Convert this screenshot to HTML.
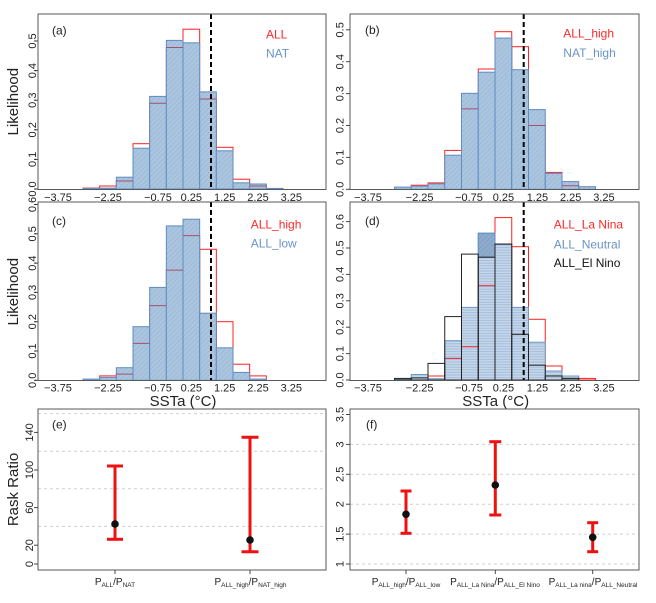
<!DOCTYPE html>
<html><head><meta charset="utf-8"><style>
html,body{margin:0;padding:0;background:#fff;}
svg{display:block;}
text{font-family:"Liberation Sans",Arial,sans-serif;}
</style></head><body>
<svg width="656" height="603" viewBox="0 0 656 603" xmlns="http://www.w3.org/2000/svg">
<defs>
<pattern id="hatch" patternUnits="userSpaceOnUse" width="3.5" height="3.5" patternTransform="rotate(45)">
<rect width="3.5" height="3.5" fill="#abc5df"/><line x1="0" y1="0" x2="0" y2="3.5" stroke="#8fb0d3" stroke-width="1"/></pattern>
<pattern id="hz" patternUnits="userSpaceOnUse" width="4" height="2.6">
<rect width="4" height="2.6" fill="#c6d7ea"/><line x1="0" y1="0.6" x2="4" y2="0.6" stroke="#9fbad9" stroke-width="0.9"/></pattern>
<pattern id="dk" patternUnits="userSpaceOnUse" width="3.5" height="3.5" patternTransform="rotate(45)">
<rect width="3.5" height="3.5" fill="#8eabcc"/><line x1="0" y1="0" x2="0" y2="3.5" stroke="#7698c0" stroke-width="1"/></pattern>
</defs>

<!-- ================= Panel (a) ================= -->
<g fill="none" stroke="#ff2020" stroke-width="1">
<rect x="83" y="188.1" width="16.67" height="0.9"/>
<rect x="99.67" y="186" width="16.67" height="3"/>
<rect x="116.33" y="181" width="16.67" height="8"/>
<rect x="133" y="143.7" width="16.67" height="45.3"/>
<rect x="149.67" y="103.2" width="16.67" height="85.8"/>
<rect x="166.33" y="47.5" width="16.67" height="141.5"/>
<rect x="183" y="29.2" width="16.67" height="159.8"/>
<rect x="199.67" y="99" width="16.67" height="90"/>
<rect x="216.33" y="147.3" width="16.67" height="41.7"/>
<rect x="233" y="179.2" width="16.67" height="9.8"/>
<rect x="249.67" y="186" width="16.67" height="3"/>
</g>
<g fill="url(#hatch)" stroke="#5f8cc2" stroke-width="1">
<rect x="83" y="188.4" width="16.67" height="0.6"/>
<rect x="99.67" y="188.1" width="16.67" height="0.9"/>
<rect x="116.33" y="177.2" width="16.67" height="11.8"/>
<rect x="133" y="148.2" width="16.67" height="40.8"/>
<rect x="149.67" y="96.4" width="16.67" height="92.6"/>
<rect x="166.33" y="40.4" width="16.67" height="148.6"/>
<rect x="183" y="42.8" width="16.67" height="146.2"/>
<rect x="199.67" y="91.9" width="16.67" height="97.1"/>
<rect x="216.33" y="150.8" width="16.67" height="38.2"/>
<rect x="233" y="182.8" width="16.67" height="6.2"/>
<rect x="249.67" y="184" width="16.67" height="5"/>
<rect x="266.33" y="188.4" width="16.67" height="0.6"/>
</g>
<g stroke="#a4506e" stroke-width="1">
<line x1="116.33" y1="181" x2="133" y2="181"/>
<line x1="149.67" y1="103.2" x2="166.33" y2="103.2"/>
<line x1="166.33" y1="47.5" x2="183" y2="47.5"/>
<line x1="199.67" y1="99" x2="216.33" y2="99"/>
<line x1="249.67" y1="186" x2="266.33" y2="186"/>
</g>
<line x1="211" y1="14" x2="211" y2="189" stroke="#000" stroke-width="2" stroke-dasharray="5,3"/>
<rect x="38" y="14" width="288" height="175.5" fill="none" stroke="#595959" stroke-width="1"/>
<text x="52" y="34.5" font-size="12" fill="#222">(a)</text>
<text x="266" y="38.5" font-size="12" fill="#ff2a2a">ALL</text>
<text x="266" y="57.6" font-size="12" fill="#6a94c8">NAT</text>
<g stroke="#444"><line x1="34" y1="189" x2="38" y2="189"/><line x1="34" y1="159.4" x2="38" y2="159.4"/><line x1="34" y1="129.8" x2="38" y2="129.8"/><line x1="34" y1="100.2" x2="38" y2="100.2"/><line x1="34" y1="70.6" x2="38" y2="70.6"/><line x1="34" y1="41" x2="38" y2="41"/></g>
<g font-size="11" fill="#222" text-anchor="middle">
<text transform="translate(36,189) rotate(-90)">0.0</text>
<text transform="translate(36,159.4) rotate(-90)">0.1</text>
<text transform="translate(36,129.8) rotate(-90)">0.2</text>
<text transform="translate(36,100.2) rotate(-90)">0.3</text>
<text transform="translate(36,70.6) rotate(-90)">0.4</text>
<text transform="translate(36,41) rotate(-90)">0.5</text>
<text x="58" y="201">−3.75</text><text x="108" y="201">−2.25</text><text x="158" y="201">−0.75</text><text x="191.3" y="201">0.25</text><text x="224.7" y="201">1.25</text><text x="258" y="201">2.25</text><text x="291.3" y="201">3.25</text>
</g>
<text transform="translate(18,101.7) rotate(-90)" font-size="15" fill="#222" text-anchor="middle">Likelihood</text>

<!-- ================= Panel (b) ================= -->
<g fill="none" stroke="#ff2020" stroke-width="1">
<rect x="394.5" y="187.7" width="16.75" height="1.6"/>
<rect x="411.25" y="185.2" width="16.75" height="4.1"/>
<rect x="428" y="182.9" width="16.75" height="6.4"/>
<rect x="444.75" y="150.4" width="16.75" height="38.9"/>
<rect x="461.5" y="108.9" width="16.75" height="80.4"/>
<rect x="478.25" y="69" width="16.75" height="120.3"/>
<rect x="495" y="31.7" width="16.75" height="157.6"/>
<rect x="511.75" y="46.7" width="16.75" height="142.6"/>
<rect x="528.5" y="125.5" width="16.75" height="63.8"/>
<rect x="545.25" y="172.4" width="16.75" height="16.9"/>
<rect x="562" y="185.8" width="16.75" height="3.5"/>
</g>
<g fill="url(#hatch)" stroke="#5f8cc2" stroke-width="1">
<rect x="394.5" y="187.1" width="16.75" height="2.2"/>
<rect x="411.25" y="186.1" width="16.75" height="3.2"/>
<rect x="428" y="183.9" width="16.75" height="5.4"/>
<rect x="444.75" y="155.2" width="16.75" height="34.1"/>
<rect x="461.5" y="93.3" width="16.75" height="96"/>
<rect x="478.25" y="72.2" width="16.75" height="117.1"/>
<rect x="495" y="38.1" width="16.75" height="151.2"/>
<rect x="511.75" y="69.7" width="16.75" height="119.6"/>
<rect x="528.5" y="109.6" width="16.75" height="79.7"/>
<rect x="545.25" y="173.4" width="16.75" height="15.9"/>
<rect x="562" y="181.6" width="16.75" height="7.7"/>
<rect x="578.75" y="186.7" width="16.75" height="2.6"/>
</g>
<g stroke="#a4506e" stroke-width="1">
<line x1="461.5" y1="108.9" x2="478.25" y2="108.9"/>
<line x1="528.5" y1="125.5" x2="545.25" y2="125.5"/>
<line x1="562" y1="185.8" x2="578.75" y2="185.8"/>
</g>
<line x1="523.7" y1="14" x2="523.7" y2="189" stroke="#000" stroke-width="2" stroke-dasharray="5,3"/>
<rect x="350" y="14" width="289" height="175.5" fill="none" stroke="#595959" stroke-width="1"/>
<text x="365" y="34" font-size="12" fill="#222">(b)</text>
<text x="563.3" y="37.6" font-size="12" fill="#ff2a2a">ALL_high</text>
<text x="563.3" y="57" font-size="12" fill="#6a94c8">NAT_high</text>
<g stroke="#444"><line x1="346" y1="189.3" x2="350" y2="189.3"/><line x1="346" y1="157.4" x2="350" y2="157.4"/><line x1="346" y1="125.5" x2="350" y2="125.5"/><line x1="346" y1="93.6" x2="350" y2="93.6"/><line x1="346" y1="61.7" x2="350" y2="61.7"/><line x1="346" y1="29.8" x2="350" y2="29.8"/></g>
<g font-size="11" fill="#222" text-anchor="middle">
<text transform="translate(343.7,189.3) rotate(-90)">0.0</text>
<text transform="translate(343.7,157.4) rotate(-90)">0.1</text>
<text transform="translate(343.7,125.5) rotate(-90)">0.2</text>
<text transform="translate(343.7,93.6) rotate(-90)">0.3</text>
<text transform="translate(343.7,61.7) rotate(-90)">0.4</text>
<text transform="translate(343.7,29.8) rotate(-90)">0.5</text>
<text x="368" y="201">−3.75</text><text x="419.6" y="201">−2.25</text><text x="469" y="201">−0.75</text><text x="503.4" y="201">0.25</text><text x="537.4" y="201">1.25</text><text x="570.7" y="201">2.25</text><text x="603.9" y="201">3.25</text>
</g>

<!-- ================= Panel (c) ================= -->
<g fill="none" stroke="#ff2020" stroke-width="1">
<rect x="83" y="379.7" width="16.67" height="0.6"/>
<rect x="99.67" y="375.9" width="16.67" height="4.4"/>
<rect x="116.33" y="374.1" width="16.67" height="6.2"/>
<rect x="133" y="343.4" width="16.67" height="36.9"/>
<rect x="149.67" y="305.6" width="16.67" height="74.7"/>
<rect x="166.33" y="270.1" width="16.67" height="110.2"/>
<rect x="183" y="235.6" width="16.67" height="144.7"/>
<rect x="199.67" y="249.3" width="16.67" height="131"/>
<rect x="216.33" y="321.7" width="16.67" height="58.6"/>
<rect x="233" y="364.2" width="16.67" height="16.1"/>
<rect x="249.67" y="375.9" width="16.67" height="4.4"/>
</g>
<g fill="url(#hatch)" stroke="#5f8cc2" stroke-width="1">
<rect x="83" y="379.1" width="16.67" height="1.2"/>
<rect x="99.67" y="377.4" width="16.67" height="2.9"/>
<rect x="116.33" y="367.7" width="16.67" height="12.6"/>
<rect x="133" y="326.7" width="16.67" height="53.6"/>
<rect x="149.67" y="287.4" width="16.67" height="92.9"/>
<rect x="166.33" y="225.9" width="16.67" height="154.4"/>
<rect x="183" y="219.2" width="16.67" height="161.1"/>
<rect x="199.67" y="313.2" width="16.67" height="67.1"/>
<rect x="216.33" y="347.8" width="16.67" height="32.5"/>
<rect x="233" y="372.4" width="16.67" height="7.9"/>
<rect x="249.67" y="379.1" width="16.67" height="1.2"/>
</g>
<g stroke="#a4506e" stroke-width="1">
<line x1="116.33" y1="374.1" x2="133" y2="374.1"/>
<line x1="133" y1="343.4" x2="149.67" y2="343.4"/>
<line x1="149.67" y1="305.6" x2="166.33" y2="305.6"/>
<line x1="166.33" y1="270.1" x2="183" y2="270.1"/>
<line x1="183" y1="235.6" x2="199.67" y2="235.6"/>
</g>
<line x1="211" y1="202" x2="211" y2="380" stroke="#000" stroke-width="2" stroke-dasharray="5,3"/>
<rect x="38" y="202" width="288" height="178.5" fill="none" stroke="#595959" stroke-width="1"/>
<text x="52" y="225" font-size="12" fill="#222">(c)</text>
<text x="250.7" y="228.3" font-size="12" fill="#ff2a2a">ALL_high</text>
<text x="250.7" y="247.6" font-size="12" fill="#6a94c8">ALL_low</text>
<g stroke="#444"><line x1="34" y1="380.3" x2="38" y2="380.3"/><line x1="34" y1="351" x2="38" y2="351"/><line x1="34" y1="321.7" x2="38" y2="321.7"/><line x1="34" y1="292.4" x2="38" y2="292.4"/><line x1="34" y1="263.1" x2="38" y2="263.1"/><line x1="34" y1="233.8" x2="38" y2="233.8"/><line x1="34" y1="204.5" x2="38" y2="204.5"/></g>
<g font-size="11" fill="#222" text-anchor="middle">
<text transform="translate(36,380.3) rotate(-90)">0.0</text>
<text transform="translate(36,351) rotate(-90)">0.1</text>
<text transform="translate(36,321.7) rotate(-90)">0.2</text>
<text transform="translate(36,292.4) rotate(-90)">0.3</text>
<text transform="translate(36,263.1) rotate(-90)">0.4</text>
<text transform="translate(36,233.8) rotate(-90)">0.5</text>
<text transform="translate(36,204.5) rotate(-90)">0.6</text>
<text x="58" y="391.5">−3.75</text><text x="108" y="391.5">−2.25</text><text x="158" y="391.5">−0.75</text><text x="191.3" y="391.5">0.25</text><text x="224.7" y="391.5">1.25</text><text x="258" y="391.5">2.25</text><text x="291.3" y="391.5">3.25</text>
</g>
<text transform="translate(18,291.7) rotate(-90)" font-size="15" fill="#222" text-anchor="middle">Likelihood</text>
<text x="183" y="406" font-size="15" fill="#222" text-anchor="middle">SSTa (°C)</text>

<!-- ================= Panel (d) ================= -->
<g fill="none" stroke="#ff2020" stroke-width="1">
<rect x="411.25" y="378.7" width="16.75" height="1.3"/>
<rect x="428" y="376" width="16.75" height="4"/>
<rect x="444.75" y="358.4" width="16.75" height="21.6"/>
<rect x="461.5" y="346.7" width="16.75" height="33.3"/>
<rect x="478.25" y="285.8" width="16.75" height="94.2"/>
<rect x="495" y="217.6" width="16.75" height="162.4"/>
<rect x="511.75" y="246.7" width="16.75" height="133.3"/>
<rect x="528.5" y="319.3" width="16.75" height="60.7"/>
<rect x="545.25" y="366" width="16.75" height="14"/>
<rect x="562" y="377.4" width="16.75" height="2.6"/>
<rect x="578.75" y="378.4" width="16.75" height="1.6"/>
</g>
<g fill="url(#hz)" stroke="#6f98c8" stroke-width="1">
<rect x="394.5" y="379.2" width="16.75" height="0.8"/>
<rect x="411.25" y="374.5" width="16.75" height="5.5"/>
<rect x="428" y="378.7" width="16.75" height="1.3"/>
<rect x="444.75" y="340.7" width="16.75" height="39.3"/>
<rect x="461.5" y="307.4" width="16.75" height="72.6"/>
<rect x="478.25" y="233.2" width="16.75" height="146.8"/>
<rect x="495" y="244.6" width="16.75" height="135.4"/>
<rect x="511.75" y="307.4" width="16.75" height="72.6"/>
<rect x="528.5" y="342.2" width="16.75" height="37.8"/>
<rect x="545.25" y="371" width="16.75" height="9"/>
<rect x="562" y="376" width="16.75" height="4"/>
</g>
<rect x="478.25" y="233.2" width="16.75" height="24" fill="url(#dk)" stroke="#5f8cc2" stroke-width="1"/>
<g stroke="#ee2030" stroke-width="1">
<line x1="444.75" y1="358.4" x2="461.5" y2="358.4"/>
<line x1="461.5" y1="346.7" x2="478.25" y2="346.7"/>
<line x1="478.25" y1="285.8" x2="495" y2="285.8"/>
</g>
<g fill="none" stroke="#222" stroke-width="1">
<rect x="394.5" y="378.4" width="16.75" height="1.6"/>
<rect x="411.25" y="377.9" width="16.75" height="2.1"/>
<rect x="428" y="363.4" width="16.75" height="16.6"/>
<rect x="444.75" y="316.6" width="16.75" height="63.4"/>
<rect x="461.5" y="254.1" width="16.75" height="125.9"/>
<rect x="478.25" y="257.2" width="16.75" height="122.8"/>
<rect x="495" y="244" width="16.75" height="136"/>
<rect x="511.75" y="334.3" width="16.75" height="45.7"/>
<rect x="528.5" y="365.2" width="16.75" height="14.8"/>
<rect x="545.25" y="376" width="16.75" height="4"/>
<rect x="562" y="378.4" width="16.75" height="1.6"/>
</g>
<line x1="523.7" y1="202" x2="523.7" y2="380" stroke="#000" stroke-width="2" stroke-dasharray="5,3"/>
<rect x="350" y="202" width="289" height="178.5" fill="none" stroke="#595959" stroke-width="1"/>
<text x="365" y="225" font-size="12" fill="#222">(d)</text>
<text x="553.7" y="228.3" font-size="12" fill="#ff2a2a">ALL_La Nina</text>
<text x="553.7" y="248.3" font-size="12" fill="#6a94c8">ALL_Neutral</text>
<text x="553.7" y="267" font-size="12" fill="#111">ALL_El Nino</text>
<g stroke="#444"><line x1="346" y1="380" x2="350" y2="380"/><line x1="346" y1="353.6" x2="350" y2="353.6"/><line x1="346" y1="327.2" x2="350" y2="327.2"/><line x1="346" y1="300.8" x2="350" y2="300.8"/><line x1="346" y1="274.4" x2="350" y2="274.4"/><line x1="346" y1="248" x2="350" y2="248"/><line x1="346" y1="221.6" x2="350" y2="221.6"/></g>
<g font-size="11" fill="#222" text-anchor="middle">
<text transform="translate(343.7,380) rotate(-90)">0.0</text>
<text transform="translate(343.7,353.6) rotate(-90)">0.1</text>
<text transform="translate(343.7,327.2) rotate(-90)">0.2</text>
<text transform="translate(343.7,300.8) rotate(-90)">0.3</text>
<text transform="translate(343.7,274.4) rotate(-90)">0.4</text>
<text transform="translate(343.7,248) rotate(-90)">0.5</text>
<text transform="translate(343.7,221.6) rotate(-90)">0.6</text>
<text x="368" y="391.5">−3.75</text><text x="419.6" y="391.5">−2.25</text><text x="469" y="391.5">−0.75</text><text x="503.4" y="391.5">0.25</text><text x="537.4" y="391.5">1.25</text><text x="570.7" y="391.5">2.25</text><text x="603.9" y="391.5">3.25</text>
</g>
<text x="495.7" y="406" font-size="15" fill="#222" text-anchor="middle">SSTa (°C)</text>

<!-- ================= Panel (e) ================= -->
<g stroke="#cfcfcf" stroke-width="1" stroke-dasharray="3,3">
<line x1="38" y1="526.4" x2="326" y2="526.4"/>
<line x1="38" y1="488.8" x2="326" y2="488.8"/>
<line x1="38" y1="451.2" x2="326" y2="451.2"/>
<line x1="38" y1="413.6" x2="326" y2="413.6"/>
</g>
<g stroke="#ee1111" stroke-width="3">
<line x1="115" y1="466" x2="115" y2="539.3"/>
<line x1="107" y1="466" x2="123" y2="466"/>
<line x1="107" y1="539.3" x2="123" y2="539.3"/>
<line x1="250" y1="437.3" x2="250" y2="551.7"/>
<line x1="241.5" y1="437.3" x2="258.5" y2="437.3"/>
<line x1="241.5" y1="551.7" x2="258.5" y2="551.7"/>
</g>
<circle cx="115" cy="524" r="3.8" fill="#111"/>
<circle cx="250" cy="540" r="3.8" fill="#111"/>
<rect x="38" y="409" width="288" height="161" fill="none" stroke="#595959" stroke-width="1"/>
<text x="52" y="428.5" font-size="12" fill="#222">(e)</text>
<g stroke="#444"><line x1="34" y1="564" x2="38" y2="564"/><line x1="34" y1="545.2" x2="38" y2="545.2"/><line x1="34" y1="507.6" x2="38" y2="507.6"/><line x1="34" y1="470" x2="38" y2="470"/><line x1="34" y1="432.4" x2="38" y2="432.4"/>
<line x1="115" y1="570" x2="115" y2="574"/><line x1="250" y1="570" x2="250" y2="574"/></g>
<g font-size="11" fill="#222" text-anchor="middle">
<text transform="translate(33,564) rotate(-90)">0</text>
<text transform="translate(33,545.2) rotate(-90)">20</text>
<text transform="translate(33,507.6) rotate(-90)">60</text>
<text transform="translate(33,470) rotate(-90)">100</text>
<text transform="translate(33,432.4) rotate(-90)">140</text>
</g>
<text transform="translate(18,489.5) rotate(-90)" font-size="15" fill="#222" text-anchor="middle">Rask Ratio</text>
<g font-size="10" fill="#222" text-anchor="middle">
<text x="115" y="585">P<tspan font-size="6.5" dy="2">ALL</tspan><tspan dy="-2">/P</tspan><tspan font-size="6.5" dy="2">NAT</tspan></text>
<text x="250.5" y="585">P<tspan font-size="6.5" dy="2">ALL_high</tspan><tspan dy="-2">/P</tspan><tspan font-size="6.5" dy="2">NAT_high</tspan></text>
</g>

<!-- ================= Panel (f) ================= -->
<g stroke="#cfcfcf" stroke-width="1" stroke-dasharray="3,3">
<line x1="350" y1="564" x2="639" y2="564"/>
<line x1="350" y1="534.1" x2="639" y2="534.1"/>
<line x1="350" y1="504.2" x2="639" y2="504.2"/>
<line x1="350" y1="474.3" x2="639" y2="474.3"/>
<line x1="350" y1="444.4" x2="639" y2="444.4"/>
</g>
<g stroke="#ee1111" stroke-width="3">
<line x1="406" y1="491" x2="406" y2="533.3"/>
<line x1="400.5" y1="491" x2="411.5" y2="491"/>
<line x1="400.5" y1="533.3" x2="411.5" y2="533.3"/>
<line x1="495.3" y1="441.7" x2="495.3" y2="515"/>
<line x1="489.3" y1="441.7" x2="501.3" y2="441.7"/>
<line x1="489.3" y1="515" x2="501.3" y2="515"/>
<line x1="592.7" y1="522.7" x2="592.7" y2="551.7"/>
<line x1="587.2" y1="522.7" x2="598.2" y2="522.7"/>
<line x1="587.2" y1="551.7" x2="598.2" y2="551.7"/>
</g>
<circle cx="406" cy="514.3" r="3.8" fill="#111"/>
<circle cx="495.3" cy="485" r="3.8" fill="#111"/>
<circle cx="592.7" cy="537.3" r="3.8" fill="#111"/>
<rect x="350" y="409" width="289" height="161" fill="none" stroke="#595959" stroke-width="1"/>
<text x="366" y="428.5" font-size="12" fill="#222">(f)</text>
<g stroke="#444"><line x1="346" y1="564" x2="350" y2="564"/><line x1="346" y1="534.1" x2="350" y2="534.1"/><line x1="346" y1="504.2" x2="350" y2="504.2"/><line x1="346" y1="474.3" x2="350" y2="474.3"/><line x1="346" y1="444.4" x2="350" y2="444.4"/><line x1="346" y1="414.5" x2="350" y2="414.5"/>
<line x1="406" y1="570" x2="406" y2="574"/><line x1="495.3" y1="570" x2="495.3" y2="574"/><line x1="592.7" y1="570" x2="592.7" y2="574"/></g>
<g font-size="11" fill="#222" text-anchor="middle">
<text transform="translate(343.7,564) rotate(-90)">1</text>
<text transform="translate(343.7,534.1) rotate(-90)">1.5</text>
<text transform="translate(343.7,504.2) rotate(-90)">2</text>
<text transform="translate(343.7,474.3) rotate(-90)">2.5</text>
<text transform="translate(343.7,444.4) rotate(-90)">3</text>
<text transform="translate(343.7,414.5) rotate(-90)">3.5</text>
</g>
<g font-size="10" fill="#222" text-anchor="middle">
<text x="406" y="585">P<tspan font-size="6.5" dy="2">ALL_high</tspan><tspan dy="-2">/P</tspan><tspan font-size="6.5" dy="2">ALL_low</tspan></text>
<text x="495" y="585">P<tspan font-size="6.5" dy="2">ALL_La Nina</tspan><tspan dy="-2">/P</tspan><tspan font-size="6.5" dy="2">ALL_El Nino</tspan></text>
<text x="593" y="585">P<tspan font-size="6.5" dy="2">ALL_La nina</tspan><tspan dy="-2">/P</tspan><tspan font-size="6.5" dy="2">ALL_Neutral</tspan></text>
</g>
</svg>
</body></html>
